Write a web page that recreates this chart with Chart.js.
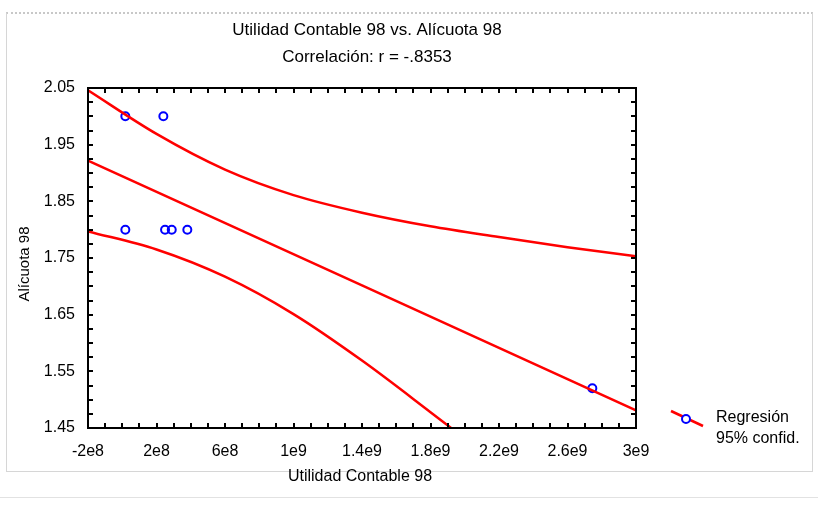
<!DOCTYPE html>
<html>
<head>
<meta charset="utf-8">
<script src="https://cdn.jsdelivr.net/npm/chart.js@4"></script>
<style>
  body { margin: 0; background: #fff; }
  #wrap { position: relative; width: 818px; height: 508px; }
  #frame { position: absolute; left: 6px; top: 12px; width: 805px; height: 457px;
           border: 1px solid #d6d6d6; border-top: 2px dotted #c8c8c8; }
  #foot { position: absolute; left: 0; top: 497px; width: 818px; border-top: 1px solid #e2e2e2; }
  canvas { position: absolute; left: 0; top: 0; }
</style>
</head>
<body>
<div id="wrap">
  <div id="frame"></div>
  <div id="foot"></div>
  <canvas id="myChart" width="818" height="508"></canvas>
</div>
<script>
// data
const obsX = [1.8e7, 2.4e8, 1.8e7, 2.5e8, 2.89e8, 3.8e8, 2.745e9];
const obsY = [2.0, 2.0, 1.8, 1.8, 1.8, 1.8, 1.52];

const fitX = [-2e8, 3e9];
const fitY = [1.922, 1.481];

const bandX     = [-2e8, 2e8, 6e8, 1e9, 1.4e9, 1.8e9, 2.2e9, 2.6e9, 3e9];
const bandUpper = [2.046, 1.969, 1.906, 1.861, 1.830, 1.806, 1.787, 1.769, 1.753];
const bandLower = [1.797, 1.765, 1.717, 1.651, 1.569, 1.478, 1.385, 1.29, 1.2];

const xTickLabels = ['-2e8', '2e8', '6e8', '1e9', '1.4e9', '1.8e9', '2.2e9', '2.6e9', '3e9'];
const yTickLabels = ['1.45', '1.55', '1.65', '1.75', '1.85', '1.95', '2.05'];

const titleLines = ['Utilidad Contable 98 vs. Alícuota 98', 'Correlación: r = -.8353'];
const xTitle = 'Utilidad Contable 98';
const yTitle = 'Alícuota 98';
const legendLines = ['Regresión', '95% confid.'];

const RED = '#ff0000';
const BLUE = '#0000ff';
const FONT = "'Liberation Sans', Arial, sans-serif";

Chart.defaults.font.family = FONT;
Chart.defaults.color = '#000';

const pts = (xs, ys) => xs.map((x, i) => ({ x: x, y: ys[i] }));

// frame, inward ticks, titles, legend
const decor = {
  id: 'decor',
  afterDraw(chart) {
    const ctx = chart.ctx;
    const a = chart.chartArea;
    const sx = chart.scales.x, sy = chart.scales.y;
    ctx.save();
    ctx.strokeStyle = '#000';
    ctx.lineWidth = 2;
    ctx.strokeRect(a.left, a.top, a.right - a.left, a.bottom - a.top);
    ctx.beginPath();
    sx.ticks.forEach(t => {
      const p = Math.round(sx.getPixelForValue(t.value));
      ctx.moveTo(p, a.bottom); ctx.lineTo(p, a.bottom - 5);
      ctx.moveTo(p, a.top); ctx.lineTo(p, a.top + 5);
    });
    sy.ticks.forEach(t => {
      const p = Math.round(sy.getPixelForValue(t.value));
      ctx.moveTo(a.left, p); ctx.lineTo(a.left + 5, p);
      ctx.moveTo(a.right, p); ctx.lineTo(a.right - 5, p);
    });
    ctx.stroke();

    ctx.fillStyle = '#000';
    ctx.textAlign = 'center';
    ctx.textBaseline = 'middle';
    ctx.font = '17px ' + FONT;
    ctx.fillText(titleLines[0], 367, 30);
    ctx.fillText(titleLines[1], 367, 57);
    ctx.font = '16px ' + FONT;
    ctx.fillText(xTitle, 360, 477);
    ctx.save();
    ctx.translate(25, 264);
    ctx.rotate(-Math.PI / 2);
    ctx.font = '15px ' + FONT;
    ctx.fillText(yTitle, 0, 0);
    ctx.restore();

    // legend
    ctx.strokeStyle = RED;
    ctx.lineWidth = 2.5;
    ctx.beginPath();
    ctx.moveTo(671, 411); ctx.lineTo(703, 426);
    ctx.stroke();
    ctx.strokeStyle = BLUE;
    ctx.lineWidth = 2;
    ctx.fillStyle = '#fff';
    ctx.beginPath();
    ctx.arc(686, 419, 4, 0, Math.PI * 2);
    ctx.fill(); ctx.stroke();
    ctx.fillStyle = '#000';
    ctx.textAlign = 'left';
    ctx.font = '16px ' + FONT;
    ctx.fillText(legendLines[0], 716, 418);
    ctx.fillText(legendLines[1], 716, 439);
    ctx.restore();
  }
};

const curve = (data) => ({
  data: data,
  showLine: true,
  borderColor: RED,
  borderWidth: 2.5,
  pointRadius: 0,
  cubicInterpolationMode: 'monotone',
  fill: false
});

new Chart(document.getElementById('myChart'), {
  type: 'scatter',
  data: {
    datasets: [
      curve(pts(fitX, fitY)),
      curve(pts(bandX, bandUpper)),
      curve(pts(bandX, bandLower)),
      {
        data: pts(obsX, obsY),
        showLine: false,
        pointRadius: 4,
        pointBorderWidth: 2,
        pointBorderColor: BLUE,
        pointBackgroundColor: 'rgba(0,0,0,0)'
      }
    ]
  },
  options: {
    responsive: false,
    animation: false,
    layout: { padding: { left: 0, top: 88, right: 182, bottom: 0 } },
    plugins: { legend: { display: false }, tooltip: { enabled: false } },
    scales: {
      x: {
        type: 'linear',
        min: -2e8,
        max: 3e9,
        grid: { display: false },
        border: { display: false },
        afterFit: s => { s.height = 80; },
        ticks: {
          stepSize: 1e8,
          autoSkip: false,
          maxRotation: 0,
          padding: 6,
          font: { size: 16 },
          callback: v => {
            const k = Math.round((v + 2e8) / 1e8);
            return k % 4 === 0 ? xTickLabels[k / 4] : '';
          }
        }
      },
      y: {
        type: 'linear',
        min: 1.45,
        max: 2.05,
        grid: { display: false },
        border: { display: false },
        afterFit: s => { s.width = 88; },
        ticks: {
          stepSize: 0.025,
          autoSkip: false,
          padding: 5,
          font: { size: 16 },
          callback: v => {
            const k = Math.round((v - 1.45) / 0.025);
            return k % 4 === 0 ? yTickLabels[k / 4] : '';
          }
        }
      }
    }
  },
  plugins: [decor]
});
</script>
</body>
</html>
